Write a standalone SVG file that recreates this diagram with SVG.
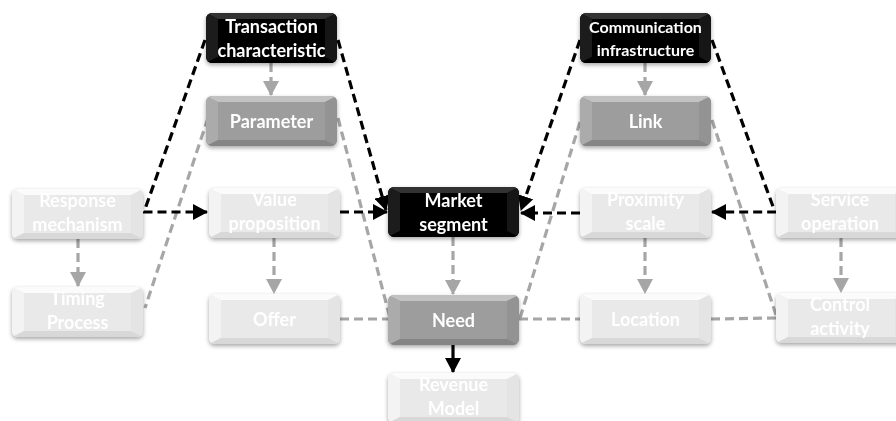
<svg xmlns="http://www.w3.org/2000/svg" xmlns:xlink="http://www.w3.org/1999/xlink" width="896" height="421" viewBox="0 0 896 421">
<style>
text{font-family:Lato,"Open Sans","Liberation Sans",sans-serif;font-weight:bold;font-size:18px;fill:#fff;text-anchor:middle}
.lt text{fill:#fff}
.bk{fill:none;stroke:#000;stroke-width:3.2;stroke-dasharray:9 5}
.gr{fill:none;stroke:#a6a6a6;stroke-width:3.2;stroke-dasharray:9 5}
.sol{fill:none;stroke:#000;stroke-width:3.2}
</style>
<defs>
<filter id="sh" x="-10%" y="-20%" width="120%" height="150%">
<feDropShadow dx="0" dy="2" stdDeviation="2" flood-color="#000" flood-opacity="0.35"/>
</filter>
<clipPath id="rr"><rect width="131" height="50" rx="6"/></clipPath>
<marker id="ab" markerWidth="16" markerHeight="16" refX="14" refY="8" orient="auto" markerUnits="userSpaceOnUse"><path d="M0,0 L15,8 L0,16 z" fill="#000"/></marker>
<marker id="ag" markerWidth="16" markerHeight="16" refX="14" refY="8" orient="auto" markerUnits="userSpaceOnUse"><path d="M0,0 L15,8 L0,16 z" fill="#a6a6a6"/></marker>
<g id="shape-dark" clip-path="url(#rr)">
<rect width="131" height="50" fill="#050505"/>
<polygon points="0,0 131,0 119,6 12,6" fill="#303030"/>
<polygon points="0,0 12,6 12,44 0,50" fill="#1c1c1c"/>
<polygon points="131,0 119,6 119,44 131,50" fill="#141414"/>
<polygon points="0,50 12,44 119,44 131,50" fill="#000"/>
</g>
<g id="shape-mid" clip-path="url(#rr)">
<rect width="131" height="50" fill="#9d9d9d"/>
<polygon points="0,0 131,0 119,6 12,6" fill="#c2c2c2"/>
<polygon points="0,0 12,6 12,44 0,50" fill="#ababab"/>
<polygon points="131,0 119,6 119,44 131,50" fill="#939393"/>
<polygon points="0,50 12,44 119,44 131,50" fill="#858585"/>
</g>
<g id="shape-light" clip-path="url(#rr)">
<rect width="131" height="50" fill="#e9e9e9"/>
<polygon points="0,0 131,0 119,6 12,6" fill="#fbfbfb"/>
<polygon points="0,0 12,6 12,44 0,50" fill="#f3f3f3"/>
<polygon points="131,0 119,6 119,44 131,50" fill="#e4e4e4"/>
<polygon points="0,50 12,44 119,44 131,50" fill="#d8d8d8"/>
</g>
</defs>
<rect width="896" height="421" fill="#fff"/>

<g id="connectors">
<path class="gr" d="M208,118 L145,308"/>
<path class="gr" d="M338,118 L390,318"/>
<path class="gr" d="M580,122 L520,318"/>
<path class="gr" d="M712,120 L777,318"/>
<path class="gr" d="M340,319 L388,319"/>
<path class="gr" d="M519,319 L580,319"/>
<path class="gr" d="M711,319 L776,318"/>
<path class="gr" d="M271,63 L271,95" marker-end="url(#ag)"/>
<path class="gr" d="M78,239 L78,286" marker-end="url(#ag)"/>
<path class="gr" d="M274,238 L274,293" marker-end="url(#ag)"/>
<path class="gr" d="M453,237 L453,294" marker-end="url(#ag)"/>
<path class="gr" d="M645,63 L645,95" marker-end="url(#ag)"/>
<path class="gr" d="M645,238 L645,293" marker-end="url(#ag)"/>
<path class="gr" d="M841,238 L841,292" marker-end="url(#ag)"/>
<path class="bk" d="M205,40 L144,212 L207,212" marker-end="url(#ab)"/>
<path class="bk" d="M338,40 L386,210" marker-end="url(#ab)"/>
<path class="bk" d="M340,212 L387,212" marker-end="url(#ab)"/>
<path class="bk" d="M580,40 L521,210" marker-end="url(#ab)"/>
<path class="bk" d="M580,213 L521,213" marker-end="url(#ab)"/>
<path class="bk" d="M712,40 L775,212 L712,212" marker-end="url(#ab)"/>
<path class="sol" d="M453,345 L453,372" marker-end="url(#ab)"/>
</g>

<g id="transaction-characteristic" filter="url(#sh)">
<use href="#shape-dark" x="206" y="13"/>
<text x="271.5" y="33">Transaction</text>
<text x="271.5" y="57">characteristic</text>
</g>
<g id="parameter" filter="url(#sh)">
<use href="#shape-mid" x="206" y="96"/>
<text x="271.5" y="128">Parameter</text>
</g>
<g id="response-mechanism" class="lt" filter="url(#sh)">
<use href="#shape-light" x="12" y="189"/>
<text x="77.5" y="207">Response</text>
<text x="77.5" y="231">mechanism</text>
</g>
<g id="timing-process" class="lt" filter="url(#sh)">
<use href="#shape-light" x="12" y="287"/>
<text x="77.5" y="305">Timing</text>
<text x="77.5" y="329">Process</text>
</g>
<g id="value-proposition" class="lt" filter="url(#sh)">
<use href="#shape-light" x="209" y="188"/>
<text x="274.5" y="206">Value</text>
<text x="274.5" y="230">proposition</text>
</g>
<g id="offer" class="lt" filter="url(#sh)">
<use href="#shape-light" x="209" y="294"/>
<text x="274.5" y="326">Offer</text>
</g>
<g id="market-segment" filter="url(#sh)">
<use href="#shape-dark" x="388" y="187"/>
<text x="453.5" y="207">Market</text>
<text x="453.5" y="231">segment</text>
</g>
<g id="need" filter="url(#sh)">
<use href="#shape-mid" x="388" y="295"/>
<text x="453.5" y="327">Need</text>
</g>
<g id="revenue-model" class="lt" filter="url(#sh)">
<use href="#shape-light" x="388" y="373"/>
<text x="453.5" y="391">Revenue</text>
<text x="453.5" y="415">Model</text>
</g>
<g id="communication-infrastructure" filter="url(#sh)">
<use href="#shape-dark" x="580" y="13"/>
<text x="645.5" y="33" style="font-size:16px">Communication</text>
<text x="645.5" y="56" style="font-size:16px">infrastructure</text>
</g>
<g id="link" filter="url(#sh)">
<use href="#shape-mid" x="580" y="96"/>
<text x="645.5" y="128">Link</text>
</g>
<g id="proximity-scale" class="lt" filter="url(#sh)">
<use href="#shape-light" x="580" y="188"/>
<text x="645.5" y="206">Proximity</text>
<text x="645.5" y="230">scale</text>
</g>
<g id="location" class="lt" filter="url(#sh)">
<use href="#shape-light" x="580" y="294"/>
<text x="645.5" y="326">Location</text>
</g>
<g id="service-operation" class="lt" filter="url(#sh)">
<use href="#shape-light" x="776" y="188"/>
<text x="840" y="206">Service</text>
<text x="840" y="230">operation</text>
</g>
<g id="control-activity" class="lt" filter="url(#sh)">
<use href="#shape-light" x="776" y="293"/>
<text x="840" y="311">Control</text>
<text x="840" y="335">activity</text>
</g>
</svg>
